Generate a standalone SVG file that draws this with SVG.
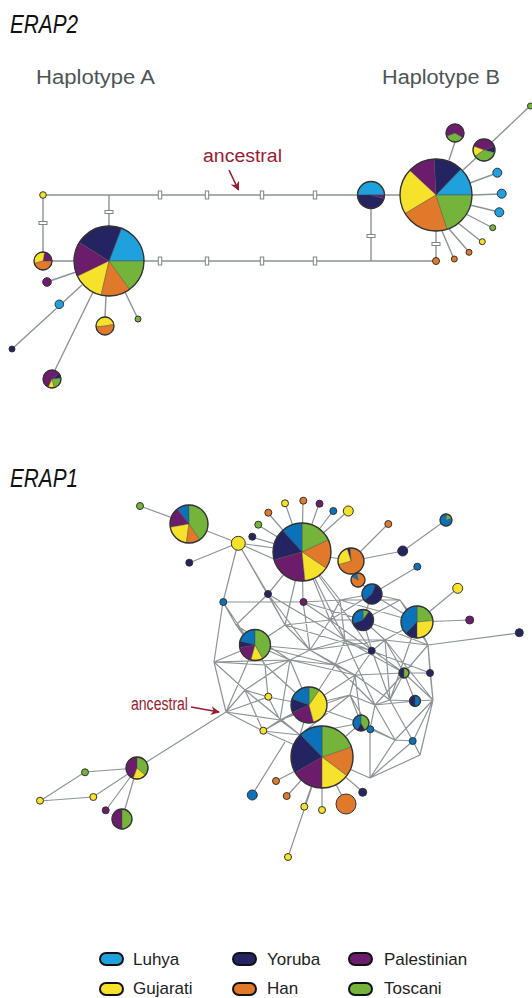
<svg xmlns="http://www.w3.org/2000/svg" width="532" height="998" viewBox="0 0 532 998">
<style>
.lu{fill:#1ea1dc}.lu1{fill:#0b72ba}.yo{fill:#252463}.pa{fill:#6b1d6b}.gu{fill:#f6e22b}.ha{fill:#e07a2a}.to{fill:#74b43b}
.sl{stroke:#444;stroke-width:0.4}
.ol{fill:none;stroke:#333;stroke-width:1.3}
.nd{stroke:#333;stroke-width:1}
.ln{fill:none;stroke:#8c9497;stroke-width:1.4}
.ms{fill:none;stroke:#8c9497;stroke-width:1.2}
.tk{fill:#fff;stroke:#7d8588;stroke-width:1}
.ttl{font-family:"Liberation Sans",Arial,sans-serif;font-style:italic;font-size:25px;fill:#111}
.hap{font-family:"Liberation Sans",Arial,sans-serif;font-size:20px;fill:#4d5556}
.anc{font-family:"Liberation Sans",Arial,sans-serif;font-size:18px;fill:#9b1b30}
.leg{font-family:"Liberation Sans",Arial,sans-serif;font-size:17px;fill:#222}
.pill{stroke:#111;stroke-width:2}
</style>
<defs>
<marker id="ah" viewBox="0 0 10 10" refX="9" refY="5" markerWidth="9" markerHeight="9" orient="auto-start-reverse" markerUnits="userSpaceOnUse">
<path d="M0,0 L10,5 L0,10 L3,5 Z" fill="#9b1b30"/>
</marker>
</defs>

<!-- ===== ERAP2 ===== -->
<text class="ttl" x="10" y="33" textLength="68" lengthAdjust="spacingAndGlyphs">ERAP2</text>
<text class="hap" x="36" y="84" textLength="119" lengthAdjust="spacingAndGlyphs">Haplotype A</text>
<text class="hap" x="382" y="84" textLength="118" lengthAdjust="spacingAndGlyphs">Haplotype B</text>
<text class="anc" x="203" y="162" textLength="79" lengthAdjust="spacingAndGlyphs">ancestral</text>

<g id="erap2-connectors">
<path class="ln" d="M43,195 H357.5 M384.5,195 H400 M43,195 V252 M109,195 V226 M52,261 H74 M144,261 H436 M371,208.5 V261 M436,231 V261"/>
<path class="ln" d="M449,160 L455,142 M463,170 L476,158 M492,142 L530,106 M470,183 L497,173 M472,195 L501,194 M470,205 L499,212 M466,214 L493,228 M458,223 L482,242 M449,229 L469,252 M442,231 L454,259"/>
<path class="ln" d="M76,272 L47,282 M82,285 L12,349 M93,292 L55,370 M106,296 L105,317 M125,292 L138,319"/>
<rect class="tk" x="158.3" y="191" width="3.4" height="8"/>
<rect class="tk" x="205.3" y="191" width="3.4" height="8"/>
<rect class="tk" x="260.3" y="191" width="3.4" height="8"/>
<rect class="tk" x="313.3" y="191" width="3.4" height="8"/>
<rect class="tk" x="158.3" y="257" width="3.4" height="8"/>
<rect class="tk" x="205.3" y="257" width="3.4" height="8"/>
<rect class="tk" x="260.3" y="257" width="3.4" height="8"/>
<rect class="tk" x="313.3" y="257" width="3.4" height="8"/>
<rect class="tk" x="39" y="221.5" width="8" height="3"/>
<rect class="tk" x="105" y="210.5" width="8" height="3"/>
<rect class="tk" x="367" y="234.5" width="8" height="3"/>
<rect class="tk" x="432" y="242.5" width="8" height="3"/>
<path d="M229,170 L238.5,190" stroke="#9b1b30" stroke-width="1.6" marker-end="url(#ah)"/>
</g>

<g id="e2-hapA">
<path class="lu sl" d="M109,261 L144,261 A35,35 0 0 0 121.5,228.3 Z"/>
<path class="yo sl" d="M109,261 L121.5,228.3 A35,35 0 0 0 79.3,242.5 Z"/>
<path class="pa sl" d="M109,261 L79.3,242.5 A35,35 0 0 0 77.5,276.3 Z"/>
<path class="gu sl" d="M109,261 L77.5,276.3 A35,35 0 0 0 101.1,295.1 Z"/>
<path class="ha sl" d="M109,261 L101.1,295.1 A35,35 0 0 0 129.6,289.3 Z"/>
<path class="to sl" d="M109,261 L129.6,289.3 A35,35 0 0 0 144,261 Z"/>
<circle class="ol" cx="109" cy="261" r="35"/>
</g>
<g id="e2-a1">
<path class="pa sl" d="M43,261 L52,261 A9,9 0 0 0 44.6,252.1 Z"/>
<path class="gu sl" d="M43,261 L44.6,252.1 A9,9 0 0 0 34.3,263.3 Z"/>
<path class="ha sl" d="M43,261 L34.3,263.3 A9,9 0 0 0 52,261 Z"/>
<circle class="ol" cx="43" cy="261" r="9"/>
</g>
<g id="e2-a2"><circle class="gu nd" cx="43" cy="195" r="3.3"/></g>
<g id="e2-a3"><circle class="pa nd" cx="47" cy="282" r="4.3"/></g>
<g id="e2-a4"><circle class="lu nd" cx="59.3" cy="304.3" r="4.3"/></g>
<g id="e2-a5"><circle class="yo nd" cx="12" cy="349" r="3"/></g>
<g id="e2-a6">
<path class="yo sl" d="M52,379 L61,378.2 A9,9 0 0 0 58.9,373.2 Z"/>
<path class="pa sl" d="M52,379 L58.9,373.2 A9,9 0 1 0 48.2,387.2 Z"/>
<path class="gu sl" d="M52,379 L48.2,387.2 A9,9 0 0 0 54.3,387.7 Z"/>
<path class="to sl" d="M52,379 L54.3,387.7 A9,9 0 0 0 61,378.2 Z"/>
<circle class="ol" cx="52" cy="379" r="9"/>
</g>
<g id="e2-a7">
<path class="gu sl" d="M105,326 L113.9,324.4 A9,9 0 0 0 96,326.8 Z"/>
<path class="ha sl" d="M105,326 L96,326.8 A9,9 0 1 0 113.9,324.4 Z"/>
<circle class="ol" cx="105" cy="326" r="9"/>
</g>
<g id="e2-a8"><circle class="to nd" cx="138" cy="319" r="3"/></g>

<g id="e2-b1">
<path class="lu sl" d="M371,195 L384.5,195 A13.5,13.5 0 0 0 357.5,195 Z"/>
<path class="yo sl" d="M371,195 L357.5,195 A13.5,13.5 0 0 0 384,198.5 Z"/>
<path class="pa sl" d="M371,195 L384,198.5 A13.5,13.5 0 0 0 384.5,195 Z"/>
<circle class="ol" cx="371" cy="195" r="13.5"/>
</g>
<g id="e2-hapB">
<path class="lu sl" d="M436,195 L472,195 A36,36 0 0 0 461,169.1 Z"/>
<path class="yo sl" d="M436,195 L461,169.1 A36,36 0 0 0 434.1,159 Z"/>
<path class="pa sl" d="M436,195 L434.1,159 A36,36 0 0 0 409.7,170.4 Z"/>
<path class="gu sl" d="M436,195 L409.7,170.4 A36,36 0 0 0 405.1,213.5 Z"/>
<path class="ha sl" d="M436,195 L405.1,213.5 A36,36 0 0 0 447.1,229.2 Z"/>
<path class="to sl" d="M436,195 L447.1,229.2 A36,36 0 0 0 472,195 Z"/>
<circle class="ol" cx="436" cy="195" r="36"/>
</g>
<g id="e2-b2">
<path class="to sl" d="M455,133 L446.5,136.1 A9,9 0 0 0 462.8,137.5 Z"/>
<path class="pa sl" d="M455,133 L462.8,137.5 A9,9 0 1 0 446.5,136.1 Z"/>
<circle class="ol" cx="455" cy="133" r="9"/>
</g>
<g id="e2-b3">
<path class="yo sl" d="M484,150 L494.6,152.8 A11,11 0 0 0 494.3,146.2 Z"/>
<path class="pa sl" d="M484,150 L494.3,146.2 A11,11 0 0 0 473.7,146.2 Z"/>
<path class="gu sl" d="M484,150 L473.7,146.2 A11,11 0 0 0 475,156.3 Z"/>
<path class="to sl" d="M484,150 L475,156.3 A11,11 0 0 0 494.6,152.8 Z"/>
<circle class="ol" cx="484" cy="150" r="11"/>
</g>
<g id="e2-b4"><circle class="to nd" cx="530.5" cy="106" r="3"/></g>
<g id="e2-b5"><circle class="lu nd" cx="497.3" cy="172.7" r="4.5"/></g>
<g id="e2-b6"><circle class="lu nd" cx="501.7" cy="193.7" r="4.5"/></g>
<g id="e2-b7"><circle class="lu nd" cx="499.3" cy="212.3" r="4.5"/></g>
<g id="e2-b8"><circle class="to nd" cx="492.7" cy="227.7" r="3"/></g>
<g id="e2-b9"><circle class="gu nd" cx="482.3" cy="241.7" r="3"/></g>
<g id="e2-b10"><circle class="ha nd" cx="469" cy="252.3" r="3"/></g>
<g id="e2-b11"><circle class="ha nd" cx="454.3" cy="259" r="3"/></g>
<g id="e2-b12"><circle class="ha nd" cx="436" cy="261" r="3.5"/></g>

<!-- ===== ERAP1 ===== -->
<text class="ttl" x="10" y="487" textLength="68" lengthAdjust="spacingAndGlyphs">ERAP1</text>
<text class="anc" x="131" y="710" textLength="57" lengthAdjust="spacingAndGlyphs" font-size="16">ancestral</text>

<g id="erap1-connectors">
<path class="ms" d="M238,543L223,602 M238,543L268,594 M238,543L285,625
M223,602L214,662 M223,602L303,602 M223,602L236,625 M223,602L265,665
M268,594L285,625 M268,594L302,552 M268,594L236,625
M303,602L302,552 M303,602L330,620 M303,602L310,650 M303,602L340,600
M302,552L330,620 M302,552L340,600 M302,552L285,625
M214,662L226,712 M214,662L255,645 M214,662L245,690
M226,712L263,731 M226,712L280,720 M226,712L255,645 M226,712L245,690
M236,625L255,645 M236,625L265,665
M255,645L265,665 M255,645L290,660 M255,645L285,625
M265,665L268,697 M265,665L290,660
M285,625L310,650 M285,625L330,620
M290,660L310,650 M290,660L309,705 M290,660L335,665 M290,660L280,720
M268,697L280,720 M268,697L309,705 M268,697L245,690
M263,731L322,757 M263,731L300,735 M263,731L280,720
M245,690L300,735 M245,690L263,731
M280,720L300,735 M280,720L309,705
M300,735L322,757 M300,735L309,705
M309,705L335,665 M309,705L350,695 M309,705L355,675
M310,650L330,620 M310,650L345,640 M310,650L335,665
M330,620L345,640 M330,620L363,620 M330,620L340,600
M340,600L372,594 M340,600L400,600 M340,600L345,640
M345,640L372,651 M345,640L385,640 M345,640L335,665
M335,665L355,675 M335,665L372,651
M372,651L385,640 M372,651L355,675 M372,651L363,620
M363,620L385,640 M363,620L400,600
M400,600L417,622 M400,600L372,594
M385,640L417,622 M385,640L404,673 M385,640L428,645
M355,675L361,723 M355,675L350,695 M355,675L404,673
M350,695L361,723 M350,695L375,705
M375,705L404,673 M375,705L415,701 M375,705L370,729 M375,705L390,700
M361,723L370,729 M361,723L395,740 M361,723L322,757
M370,729L395,740 M370,729L370,778
M390,700L415,701 M390,700L404,673 M390,700L413,741
M404,673L430,673 M404,673L428,645
M430,673L428,645 M430,673L433,700
M428,645L417,622 M428,645L433,700
M433,700L415,701 M433,700L413,741 M433,700L420,755
M413,741L420,755 M413,741L395,740
M420,755L370,778
M395,740L370,778 M395,740L375,705
M370,778L322,757
M417,622L390,700
M268,594L345,640 M303,602L363,620 M285,625L372,651 M310,650L385,640 M330,620L404,673 M345,640L404,673
M255,645L335,665 M265,665L309,705 M290,660L355,675 M236,625L290,660 M310,650L355,675 M335,665L375,705
M345,640L375,705 M372,651L390,700 M363,620L428,645 M385,640L433,700 M400,600L428,645 M340,600L417,622
M372,651L430,673 M355,675L390,700 M350,695L370,729 M309,705L361,723 M300,735L361,723 M280,720L350,695
M245,690L290,660 M214,662L265,665 M226,712L268,697 M404,673L415,701 M302,552L345,640 M302,552L372,651
M330,620L372,594 M268,594L310,650 M214,662L290,660 M255,645L310,650 M300,735L350,695 M263,731L309,705
M404,673L433,700 M363,620L372,651 M385,640L390,700 M395,740L433,700 M370,778L413,741"/>
<path class="ms" d="M140,506 L189,524 L238,543 M189,563 L238,543 M238,543 L274,548 M238,543 L276,560
M252,537 L302,552 M258,525 L302,552 M268,513 L302,552 M285,503 L302,552 M303,501 L302,552 M319,504 L302,552 M333,511 L302,552 M348,511 L302,552
M302,552 L351,561 M351,561 L388,524 M351,561 L403,551 L446,520 M351,561 L358,580 L372,594 L417,567 M372,594 L417,622 L458,588 M417,622 L470,620 M428,645 L519,633 M372,594 L363,620
M322,757 L276,781 M322,757 L287,796 M322,757 L304,807 M322,757 L322,810 M322,757 L346,804 M322,757 L363,792 M322,757 L288,857 M252,795 L285,742
M137,768 L226,712 M137,768 L85,772 L40,801 L93,797 L137,768 M137,768 L106,810 M137,768 L122,819"/>
<path d="M191,707 L219,712" stroke="#9b1b30" stroke-width="1.6" marker-end="url(#ah)"/>
</g>

<g id="e1-n1"><circle class="to nd" cx="140" cy="506" r="3.5"/></g>
<g id="e1-n2">
<path class="lu1 sl" d="M189,524 L189,505 A19,19 0 0 0 177.3,509 Z"/>
<path class="pa sl" d="M189,524 L177.3,509 A19,19 0 0 0 170.3,527.3 Z"/>
<path class="gu sl" d="M189,524 L170.3,527.3 A19,19 0 0 0 186.4,542.8 Z"/>
<path class="ha sl" d="M189,524 L186.4,542.8 A19,19 0 0 0 199.9,539.6 Z"/>
<path class="to sl" d="M189,524 L199.9,539.6 A19,19 0 0 0 189,505 Z"/>
<circle class="ol" cx="189" cy="524" r="19"/>
</g>
<g id="e1-n3"><circle class="gu nd" cx="238.3" cy="543.3" r="7"/></g>
<g id="e1-n4"><circle class="yo nd" cx="189.3" cy="562.7" r="3.5"/></g>
<g id="e1-n5"><circle class="yo nd" cx="252.3" cy="536.7" r="3.5"/></g>
<g id="e1-n6"><circle class="to nd" cx="258.3" cy="524.7" r="3.5"/></g>
<g id="e1-n7"><circle class="ha nd" cx="268.3" cy="512.7" r="3.5"/></g>
<g id="e1-n8"><circle class="gu nd" cx="285" cy="503.3" r="3.5"/></g>
<g id="e1-n9"><circle class="ha nd" cx="303.3" cy="500.7" r="3.5"/></g>
<g id="e1-n10"><circle class="pa nd" cx="319.5" cy="503.7" r="3.5"/></g>
<g id="e1-n11"><circle class="lu1 nd" cx="333.3" cy="511" r="3.5"/></g>
<g id="e1-n12"><circle class="gu nd" cx="348.3" cy="511" r="5"/></g>
<g id="e1-n13">
<path class="ha sl" d="M302,552 L326,568.2 A29,29 0 0 0 328.3,539.7 Z"/>
<path class="to sl" d="M302,552 L328.3,539.7 A29,29 0 0 0 302,523 Z"/>
<path class="lu1 sl" d="M302,552 L302,523 A29,29 0 0 0 282.6,530.5 Z"/>
<path class="yo sl" d="M302,552 L282.6,530.5 A29,29 0 0 0 274.1,560 Z"/>
<path class="pa sl" d="M302,552 L274.1,560 A29,29 0 0 0 305,580.9 Z"/>
<path class="gu sl" d="M302,552 L305,580.9 A29,29 0 0 0 326,568.2 Z"/>
<circle class="ol" cx="302" cy="552" r="29"/>
</g>
<g id="e1-n14"><circle class="ha nd" cx="388.3" cy="524" r="3.5"/></g>
<g id="e1-n15">
<path class="lu1 sl" d="M446,520 L447,514.1 A6,6 0 1 0 451.6,517.9 Z"/>
<path class="to sl" d="M446,520 L451.6,517.9 A6,6 0 0 0 447,514.1 Z"/>
<circle class="ol" cx="446" cy="520" r="6"/>
</g>
<g id="e1-n16">
<path class="ha sl" d="M351,561 L338.4,564.4 A13,13 0 1 0 349.9,548.1 Z"/>
<path class="yo sl" d="M351,561 L349.9,548.1 A13,13 0 0 0 347,548.6 Z"/>
<path class="gu sl" d="M351,561 L347,548.6 A13,13 0 0 0 338.4,564.4 Z"/>
<circle class="ol" cx="351" cy="561" r="13"/>
</g>
<g id="e1-n17"><circle class="yo nd" cx="402.7" cy="551" r="5"/></g>
<g id="e1-n18">
<path class="ha sl" d="M358,580 L351.9,576.5 A7,7 0 1 0 356.8,573.1 Z"/>
<path class="lu1 sl" d="M358,580 L356.8,573.1 A7,7 0 0 0 351.9,576.5 Z"/>
<circle class="ol" cx="358" cy="580" r="7"/>
</g>
<g id="e1-n19"><circle class="lu1 nd" cx="417.3" cy="566.7" r="3.5"/></g>
<g id="e1-n20">
<path class="lu1 sl" d="M372,594 L375.4,584.6 A10,10 0 0 0 364.3,600.4 Z"/>
<path class="yo sl" d="M372,594 L364.3,600.4 A10,10 0 1 0 375.4,584.6 Z"/>
<circle class="ol" cx="372" cy="594" r="10"/>
</g>
<g id="e1-n21"><circle class="gu nd" cx="457.7" cy="588.3" r="5"/></g>
<g id="e1-n22">
<path class="to sl" d="M363,620 L369,611.4 A10.5,10.5 0 0 0 363,609.5 Z"/>
<path class="lu1 sl" d="M363,620 L363,609.5 A10.5,10.5 0 0 0 353.1,623.6 Z"/>
<path class="yo sl" d="M363,620 L353.1,623.6 A10.5,10.5 0 1 0 369,611.4 Z"/>
<circle class="ol" cx="363" cy="620" r="10.5"/>
</g>
<g id="e1-n23">
<path class="to sl" d="M417,622 L432.9,620.6 A16,16 0 0 0 417,606 Z"/>
<path class="lu1 sl" d="M417,622 L417,606 A16,16 0 0 0 405.7,633.3 Z"/>
<path class="yo sl" d="M417,622 L405.7,633.3 A16,16 0 0 0 417,638 Z"/>
<path class="gu sl" d="M417,622 L417,638 A16,16 0 0 0 432.9,620.6 Z"/>
<circle class="ol" cx="417" cy="622" r="16"/>
</g>
<g id="e1-n24"><circle class="pa nd" cx="469.7" cy="620" r="4"/></g>
<g id="e1-n25"><circle class="yo nd" cx="519.3" cy="632.7" r="4"/></g>
<g id="e1-n26"><circle class="lu1 nd" cx="223.3" cy="602" r="3.5"/></g>
<g id="e1-n27"><circle class="yo nd" cx="268" cy="594" r="3.5"/></g>
<g id="e1-n28"><circle class="pa nd" cx="303.5" cy="602" r="3.5"/></g>
<g id="e1-n29">
<path class="lu1 sl" d="M255,645 L255,629.5 A15.5,15.5 0 0 0 240,641 Z"/>
<path class="yo sl" d="M255,645 L240,641 A15.5,15.5 0 0 0 239.7,647.7 Z"/>
<path class="pa sl" d="M255,645 L239.7,647.7 A15.5,15.5 0 0 0 251,660 Z"/>
<path class="gu sl" d="M255,645 L251,660 A15.5,15.5 0 0 0 262.8,658.4 Z"/>
<path class="to sl" d="M255,645 L262.8,658.4 A15.5,15.5 0 0 0 255,629.5 Z"/>
<circle class="ol" cx="255" cy="645" r="15.5"/>
</g>
<g id="e1-n30"><circle class="yo nd" cx="371.7" cy="650.7" r="3.5"/></g>
<g id="e1-n31">
<path class="yo sl" d="M404,673 L404,668 A5,5 0 0 0 404,678 Z"/>
<path class="to sl" d="M404,673 L404,678 A5,5 0 0 0 404,668 Z"/>
<circle class="ol" cx="404" cy="673" r="5"/>
</g>
<g id="e1-n32"><circle class="yo nd" cx="430" cy="673" r="3.5"/></g>
<g id="e1-n33">
<path class="yo sl" d="M415,701 L415,695.5 A5.5,5.5 0 0 0 415,706.5 Z"/>
<path class="lu1 sl" d="M415,701 L415,706.5 A5.5,5.5 0 0 0 415,695.5 Z"/>
<circle class="ol" cx="415" cy="701" r="5.5"/>
</g>
<g id="e1-n34"><circle class="gu nd" cx="268.3" cy="696.7" r="3.5"/></g>
<g id="e1-n35">
<path class="to sl" d="M309,705 L319.3,690.3 A18,18 0 0 0 309,687 Z"/>
<path class="lu1 sl" d="M309,705 L309,687 A18,18 0 0 0 292.1,698.8 Z"/>
<path class="yo sl" d="M309,705 L292.1,698.8 A18,18 0 0 0 292.7,712.6 Z"/>
<path class="pa sl" d="M309,705 L292.7,712.6 A18,18 0 0 0 313.7,722.4 Z"/>
<path class="gu sl" d="M309,705 L313.7,722.4 A18,18 0 0 0 319.3,690.3 Z"/>
<circle class="ol" cx="309" cy="705" r="18"/>
</g>
<g id="e1-n36">
<path class="lu1 sl" d="M361,723 L361,715 A8,8 0 0 0 357,729.9 Z"/>
<path class="yo sl" d="M361,723 L357,729.9 A8,8 0 0 0 365,729.9 Z"/>
<path class="to sl" d="M361,723 L365,729.9 A8,8 0 0 0 361,715 Z"/>
<circle class="ol" cx="361" cy="723" r="8"/>
</g>
<g id="e1-n37"><circle class="lu1 nd" cx="370.3" cy="729.3" r="3.5"/></g>
<g id="e1-n38"><circle class="lu1 nd" cx="412.7" cy="741" r="3.5"/></g>
<g id="e1-n39"><circle class="gu nd" cx="263.3" cy="730.7" r="3.5"/></g>
<g id="e1-n40">
<path class="ha sl" d="M322,757 L346.8,775.7 A31,31 0 0 0 351.3,746.9 Z"/>
<path class="to sl" d="M322,757 L351.3,746.9 A31,31 0 0 0 322,726 Z"/>
<path class="lu1 sl" d="M322,757 L322,726 A31,31 0 0 0 300.5,734.7 Z"/>
<path class="yo sl" d="M322,757 L300.5,734.7 A31,31 0 0 0 295.2,772.5 Z"/>
<path class="pa sl" d="M322,757 L295.2,772.5 A31,31 0 0 0 322,788 Z"/>
<path class="gu sl" d="M322,757 L322,788 A31,31 0 0 0 346.8,775.7 Z"/>
<circle class="ol" cx="322" cy="757" r="31"/>
</g>
<g id="e1-n41"><circle class="ha nd" cx="276" cy="781" r="3.5"/></g>
<g id="e1-n42"><circle class="ha nd" cx="286.7" cy="796" r="3.5"/></g>
<g id="e1-n43"><circle class="lu1 nd" cx="252.3" cy="795" r="5"/></g>
<g id="e1-n44"><circle class="gu nd" cx="304.3" cy="806.7" r="3.5"/></g>
<g id="e1-n45"><circle class="gu nd" cx="322" cy="810" r="3.5"/></g>
<g id="e1-n46"><circle class="ha nd" cx="346" cy="804" r="10"/></g>
<g id="e1-n47"><circle class="yo nd" cx="362.7" cy="792.3" r="4"/></g>
<g id="e1-n48"><circle class="gu nd" cx="288" cy="857" r="3.5"/></g>
<g id="e1-n49">
<path class="pa sl" d="M137,768 L137,757 A11,11 0 0 0 133.2,778.3 Z"/>
<path class="gu sl" d="M137,768 L133.2,778.3 A11,11 0 0 0 145.4,775.1 Z"/>
<path class="to sl" d="M137,768 L145.4,775.1 A11,11 0 0 0 137,757 Z"/>
<circle class="ol" cx="137" cy="768" r="11"/>
</g>
<g id="e1-n50"><circle class="to nd" cx="85" cy="772.3" r="3.5"/></g>
<g id="e1-n51"><circle class="gu nd" cx="40" cy="800.7" r="3.5"/></g>
<g id="e1-n52"><circle class="gu nd" cx="93.3" cy="797" r="3.5"/></g>
<g id="e1-n53"><circle class="pa nd" cx="105.7" cy="810.3" r="3.5"/></g>
<g id="e1-n54">
<path class="pa sl" d="M122,819 L122,809 A10,10 0 0 0 122,829 Z"/>
<path class="to sl" d="M122,819 L122,829 A10,10 0 0 0 122,809 Z"/>
<circle class="ol" cx="122" cy="819" r="10"/>
</g>

<!-- ===== Legend ===== -->
<g id="legend">
<rect class="lu pill" x="100" y="953" width="23" height="12" rx="6"/>
<text class="leg" x="133" y="965">Luhya</text>
<rect class="yo pill" x="233" y="953" width="23" height="12" rx="6"/>
<text class="leg" x="267" y="965">Yoruba</text>
<rect class="pa pill" x="349" y="953" width="23" height="12" rx="6"/>
<text class="leg" x="384" y="965">Palestinian</text>
<rect class="gu pill" x="100" y="983" width="23" height="12" rx="6"/>
<text class="leg" x="133" y="994">Gujarati</text>
<rect class="ha pill" x="233" y="983" width="23" height="12" rx="6"/>
<text class="leg" x="267" y="994">Han</text>
<rect class="to pill" x="349" y="983" width="23" height="12" rx="6"/>
<text class="leg" x="384" y="994">Toscani</text>
</g>
</svg>
